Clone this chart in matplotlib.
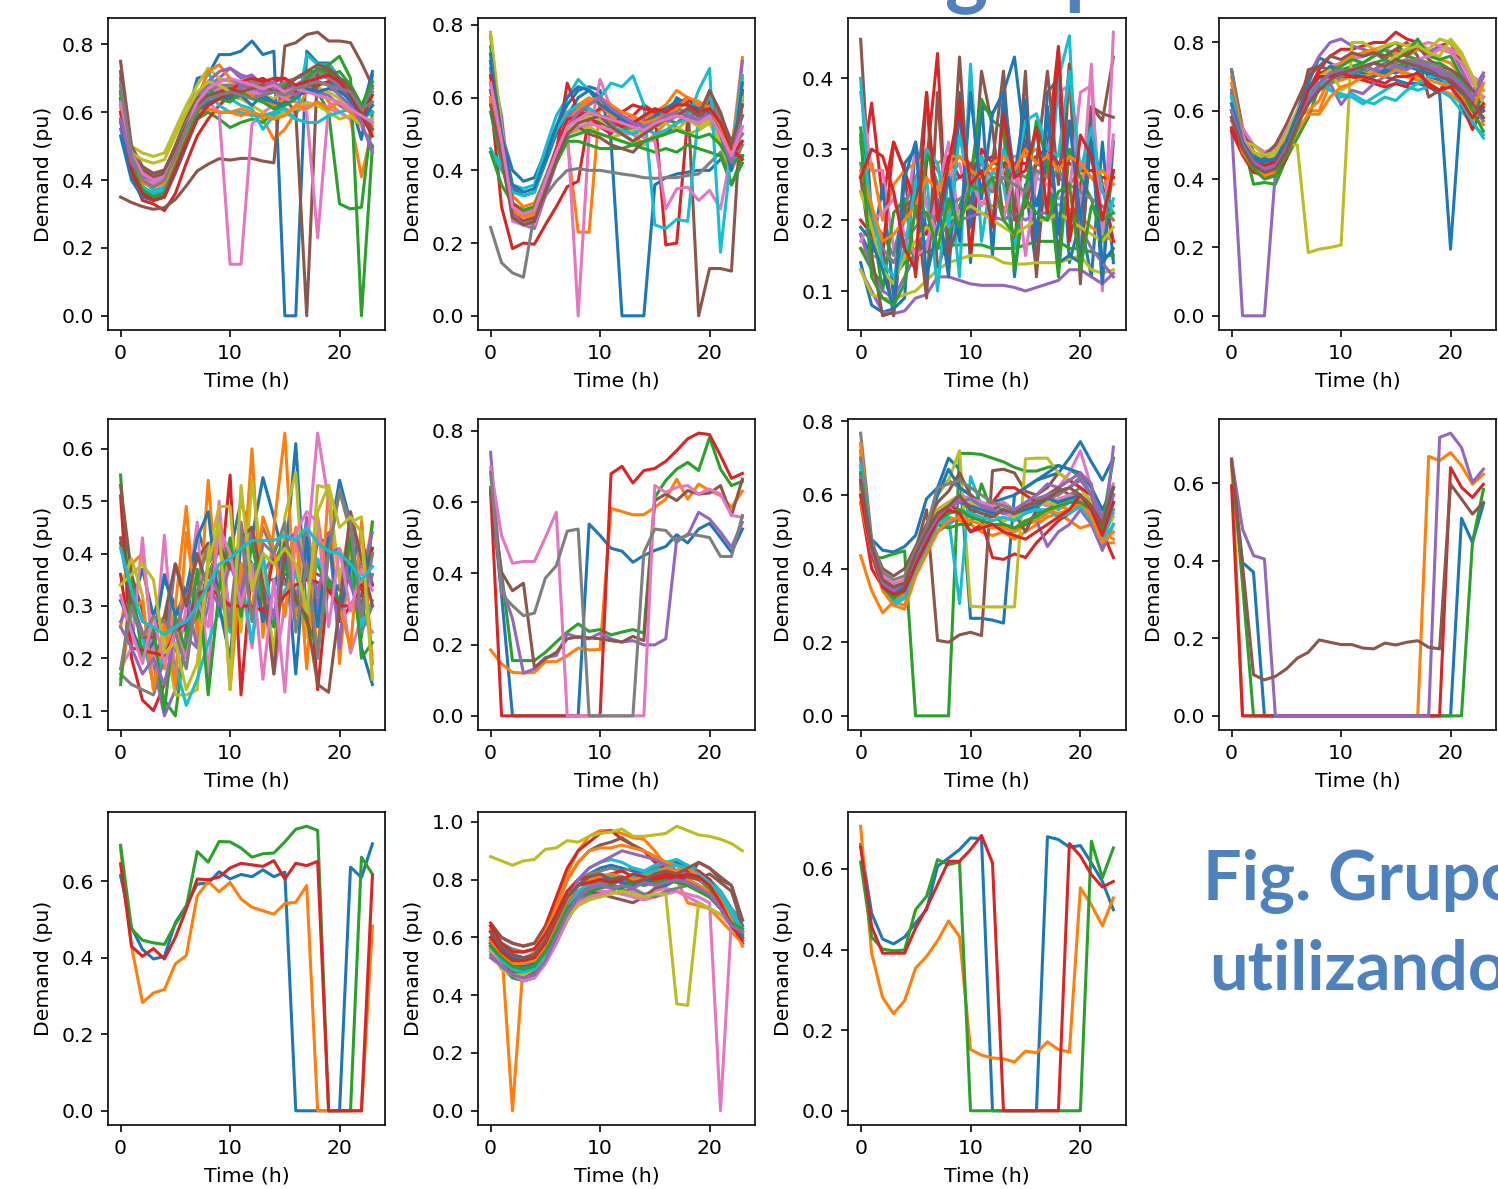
import matplotlib
matplotlib.use("Agg")
import matplotlib.pyplot as plt
import numpy as np

hours = np.arange(24)

# group 1 (row 1, col 1)
g1 = [
    [0.62, 0.44, 0.37, 0.35, 0.36, 0.45, 0.58, 0.70, 0.71, 0.77, 0.77, 0.78, 0.81, 0.77, 0.78, 0.0, 0.0, 0.78, 0.745, 0.745, 0.70, 0.66, 0.60, 0.72],
    [0.60, 0.45, 0.38, 0.36, 0.37, 0.45, 0.53, 0.58, 0.61, 0.60, 0.60, 0.61, 0.60, 0.58, 0.52, 0.55, 0.60, 0.66, 0.68, 0.63, 0.60, 0.58, 0.41, 0.55],
    [0.64, 0.46, 0.38, 0.35, 0.36, 0.44, 0.52, 0.58, 0.60, 0.58, 0.555, 0.57, 0.58, 0.57, 0.60, 0.64, 0.66, 0.68, 0.66, 0.60, 0.33, 0.315, 0.32, 0.60],
    [0.58, 0.42, 0.34, 0.33, 0.31, 0.36, 0.45, 0.53, 0.58, 0.62, 0.65, 0.68, 0.69, 0.70, 0.68, 0.68, 0.67, 0.70, 0.69, 0.68, 0.67, 0.64, 0.60, 0.62],
    [0.55, 0.44, 0.40, 0.39, 0.40, 0.46, 0.56, 0.63, 0.68, 0.70, 0.73, 0.71, 0.70, 0.68, 0.66, 0.67, 0.65, 0.66, 0.66, 0.65, 0.62, 0.60, 0.56, 0.50],
    [0.35, 0.334, 0.322, 0.314, 0.319, 0.343, 0.383, 0.427, 0.447, 0.463, 0.459, 0.464, 0.464, 0.456, 0.451, 0.795, 0.805, 0.829, 0.836, 0.81, 0.81, 0.805, 0.746, 0.677],
    [0.63, 0.48, 0.42, 0.40, 0.41, 0.47, 0.55, 0.63, 0.63, 0.60, 0.152, 0.152, 0.565, 0.60, 0.62, 0.61, 0.60, 0.62, 0.63, 0.61, 0.60, 0.58, 0.57, 0.58],
    [0.72, 0.48, 0.42, 0.41, 0.43, 0.49, 0.56, 0.62, 0.65, 0.66, 0.67, 0.66, 0.64, 0.66, 0.67, 0.66, 0.68, 0.69, 0.70, 0.71, 0.69, 0.68, 0.60, 0.66],
    [0.68, 0.50, 0.48, 0.47, 0.48, 0.55, 0.62, 0.68, 0.73, 0.70, 0.69, 0.68, 0.66, 0.65, 0.64, 0.66, 0.67, 0.68, 0.67, 0.66, 0.64, 0.62, 0.60, 0.62],
    [0.68, 0.47, 0.40, 0.37, 0.38, 0.46, 0.55, 0.64, 0.72, 0.65, 0.64, 0.62, 0.61, 0.55, 0.59, 0.60, 0.58, 0.77, 0.74, 0.74, 0.70, 0.68, 0.62, 0.66],
    [0.53, 0.40, 0.35, 0.34, 0.35, 0.42, 0.50, 0.58, 0.62, 0.64, 0.65, 0.64, 0.65, 0.64, 0.62, 0.63, 0.65, 0.66, 0.68, 0.69, 0.67, 0.63, 0.52, 0.71],
    [0.66, 0.47, 0.41, 0.40, 0.42, 0.50, 0.58, 0.64, 0.72, 0.74, 0.70, 0.66, 0.65, 0.63, 0.62, 0.64, 0.66, 0.70, 0.71, 0.73, 0.70, 0.66, 0.58, 0.63],
    [0.70, 0.46, 0.38, 0.36, 0.37, 0.46, 0.54, 0.63, 0.66, 0.67, 0.66, 0.68, 0.67, 0.69, 0.66, 0.68, 0.70, 0.72, 0.72, 0.74, 0.765, 0.70, 0.0, 0.50],
    [0.64, 0.44, 0.37, 0.35, 0.37, 0.44, 0.52, 0.60, 0.64, 0.66, 0.67, 0.66, 0.68, 0.67, 0.69, 0.70, 0.66, 0.68, 0.68, 0.69, 0.70, 0.66, 0.58, 0.65],
    [0.66, 0.47, 0.42, 0.41, 0.42, 0.50, 0.58, 0.65, 0.69, 0.72, 0.73, 0.70, 0.71, 0.68, 0.69, 0.66, 0.68, 0.70, 0.71, 0.70, 0.68, 0.64, 0.58, 0.60],
    [0.75, 0.50, 0.44, 0.42, 0.43, 0.50, 0.58, 0.64, 0.66, 0.68, 0.67, 0.67, 0.66, 0.65, 0.66, 0.64, 0.60, 0.0, 0.73, 0.72, 0.70, 0.68, 0.62, 0.60],
    [0.60, 0.46, 0.40, 0.39, 0.40, 0.47, 0.56, 0.62, 0.65, 0.67, 0.68, 0.67, 0.66, 0.65, 0.66, 0.64, 0.63, 0.60, 0.23, 0.62, 0.63, 0.60, 0.58, 0.57],
    [0.70, 0.49, 0.43, 0.41, 0.42, 0.49, 0.57, 0.63, 0.66, 0.68, 0.68, 0.67, 0.69, 0.68, 0.67, 0.69, 0.70, 0.71, 0.72, 0.70, 0.69, 0.66, 0.61, 0.67],
    [0.62, 0.48, 0.46, 0.45, 0.46, 0.53, 0.60, 0.66, 0.69, 0.68, 0.66, 0.64, 0.62, 0.60, 0.58, 0.60, 0.61, 0.63, 0.62, 0.60, 0.58, 0.59, 0.56, 0.58],
    [0.66, 0.45, 0.38, 0.36, 0.37, 0.45, 0.53, 0.61, 0.66, 0.62, 0.60, 0.60, 0.59, 0.59, 0.60, 0.61, 0.58, 0.57, 0.57, 0.59, 0.60, 0.61, 0.58, 0.60],
    [0.57, 0.43, 0.36, 0.34, 0.36, 0.44, 0.52, 0.59, 0.63, 0.64, 0.64, 0.65, 0.62, 0.65, 0.63, 0.62, 0.64, 0.67, 0.66, 0.67, 0.66, 0.64, 0.57, 0.62],
    [0.62, 0.45, 0.39, 0.38, 0.39, 0.46, 0.54, 0.60, 0.61, 0.60, 0.60, 0.59, 0.60, 0.59, 0.58, 0.59, 0.62, 0.61, 0.63, 0.61, 0.63, 0.60, 0.57, 0.56],
    [0.66, 0.45, 0.37, 0.35, 0.36, 0.44, 0.52, 0.60, 0.67, 0.64, 0.63, 0.66, 0.64, 0.63, 0.61, 0.62, 0.64, 0.70, 0.73, 0.71, 0.72, 0.68, 0.62, 0.69],
    [0.60, 0.43, 0.36, 0.34, 0.35, 0.43, 0.51, 0.58, 0.62, 0.64, 0.66, 0.69, 0.70, 0.69, 0.70, 0.70, 0.68, 0.69, 0.70, 0.71, 0.69, 0.65, 0.59, 0.53],
    [0.58, 0.45, 0.41, 0.40, 0.41, 0.47, 0.55, 0.62, 0.67, 0.69, 0.70, 0.68, 0.67, 0.66, 0.67, 0.66, 0.65, 0.68, 0.69, 0.68, 0.65, 0.62, 0.57, 0.48],
    [0.72, 0.48, 0.43, 0.41, 0.42, 0.49, 0.56, 0.62, 0.65, 0.66, 0.65, 0.66, 0.67, 0.68, 0.66, 0.67, 0.70, 0.72, 0.74, 0.73, 0.70, 0.67, 0.60, 0.55],
    [0.63, 0.48, 0.42, 0.40, 0.41, 0.47, 0.55, 0.63, 0.67, 0.69, 0.70, 0.69, 0.68, 0.67, 0.68, 0.66, 0.67, 0.66, 0.65, 0.64, 0.63, 0.61, 0.59, 0.57],
    [0.68, 0.47, 0.40, 0.38, 0.40, 0.47, 0.55, 0.61, 0.64, 0.65, 0.66, 0.65, 0.64, 0.65, 0.66, 0.65, 0.67, 0.68, 0.69, 0.68, 0.67, 0.66, 0.61, 0.63],
]

# group 2 (row 1, col 2)
g2 = [
    [0.77, 0.50, 0.40, 0.37, 0.38, 0.45, 0.52, 0.58, 0.62, 0.63, 0.62, 0.48, 0.0, 0.0, 0.0, 0.36, 0.38, 0.39, 0.395, 0.40, 0.40, 0.43, 0.45, 0.62],
    [0.72, 0.50, 0.33, 0.30, 0.31, 0.38, 0.45, 0.48, 0.23, 0.23, 0.59, 0.56, 0.53, 0.50, 0.47, 0.50, 0.53, 0.56, 0.60, 0.57, 0.55, 0.50, 0.45, 0.71],
    [0.74, 0.52, 0.31, 0.27, 0.28, 0.36, 0.45, 0.52, 0.56, 0.57, 0.55, 0.53, 0.52, 0.50, 0.51, 0.52, 0.54, 0.53, 0.55, 0.53, 0.56, 0.48, 0.36, 0.44],
    [0.60, 0.30, 0.185, 0.20, 0.197, 0.25, 0.30, 0.355, 0.37, 0.55, 0.57, 0.56, 0.54, 0.55, 0.58, 0.56, 0.195, 0.20, 0.54, 0.56, 0.58, 0.51, 0.44, 0.44],
    [0.70, 0.55, 0.28, 0.25, 0.24, 0.33, 0.42, 0.50, 0.52, 0.52, 0.54, 0.55, 0.53, 0.51, 0.55, 0.53, 0.55, 0.58, 0.60, 0.58, 0.55, 0.50, 0.42, 0.70],
    [0.68, 0.45, 0.30, 0.28, 0.29, 0.36, 0.44, 0.52, 0.55, 0.54, 0.53, 0.52, 0.50, 0.48, 0.50, 0.53, 0.55, 0.57, 0.60, 0.0, 0.13, 0.13, 0.123, 0.62],
    [0.62, 0.48, 0.26, 0.25, 0.25, 0.34, 0.44, 0.52, 0.0, 0.50, 0.65, 0.57, 0.55, 0.54, 0.52, 0.50, 0.51, 0.53, 0.56, 0.55, 0.53, 0.50, 0.45, 0.50],
    [0.243, 0.146, 0.118, 0.106, 0.28, 0.33, 0.37, 0.40, 0.405, 0.40, 0.40, 0.395, 0.39, 0.386, 0.38, 0.378, 0.38, 0.38, 0.386, 0.39, 0.42, 0.45, 0.40, 0.47],
    [0.78, 0.52, 0.29, 0.26, 0.27, 0.35, 0.44, 0.50, 0.51, 0.52, 0.50, 0.49, 0.50, 0.48, 0.47, 0.49, 0.51, 0.52, 0.50, 0.51, 0.53, 0.47, 0.40, 0.65],
    [0.46, 0.40, 0.36, 0.35, 0.36, 0.46, 0.55, 0.60, 0.65, 0.62, 0.60, 0.64, 0.63, 0.66, 0.58, 0.25, 0.24, 0.265, 0.26, 0.55, 0.54, 0.50, 0.45, 0.55],
    [0.72, 0.48, 0.35, 0.33, 0.34, 0.42, 0.50, 0.55, 0.60, 0.62, 0.60, 0.56, 0.55, 0.53, 0.55, 0.56, 0.54, 0.60, 0.58, 0.56, 0.57, 0.50, 0.42, 0.60],
    [0.66, 0.46, 0.30, 0.28, 0.29, 0.37, 0.46, 0.54, 0.58, 0.60, 0.58, 0.55, 0.54, 0.52, 0.54, 0.56, 0.58, 0.62, 0.60, 0.58, 0.58, 0.52, 0.46, 0.66],
    [0.56, 0.42, 0.29, 0.27, 0.28, 0.35, 0.42, 0.48, 0.48, 0.47, 0.46, 0.46, 0.46, 0.47, 0.46, 0.45, 0.46, 0.45, 0.47, 0.46, 0.45, 0.44, 0.36, 0.42],
    [0.64, 0.47, 0.30, 0.27, 0.28, 0.36, 0.45, 0.64, 0.56, 0.55, 0.52, 0.50, 0.56, 0.58, 0.57, 0.56, 0.57, 0.58, 0.60, 0.56, 0.59, 0.52, 0.44, 0.48],
    [0.68, 0.50, 0.30, 0.27, 0.27, 0.36, 0.45, 0.55, 0.57, 0.59, 0.60, 0.58, 0.55, 0.53, 0.54, 0.52, 0.53, 0.55, 0.57, 0.55, 0.56, 0.50, 0.44, 0.60],
    [0.62, 0.45, 0.28, 0.26, 0.27, 0.35, 0.43, 0.50, 0.52, 0.50, 0.49, 0.47, 0.46, 0.45, 0.48, 0.49, 0.50, 0.53, 0.55, 0.52, 0.61, 0.55, 0.48, 0.55],
    [0.60, 0.46, 0.29, 0.27, 0.28, 0.36, 0.44, 0.50, 0.52, 0.53, 0.52, 0.51, 0.50, 0.50, 0.49, 0.48, 0.294, 0.349, 0.354, 0.317, 0.345, 0.294, 0.45, 0.52],
    [0.66, 0.48, 0.31, 0.29, 0.30, 0.38, 0.46, 0.53, 0.55, 0.56, 0.55, 0.53, 0.52, 0.52, 0.53, 0.54, 0.56, 0.57, 0.56, 0.55, 0.60, 0.54, 0.46, 0.50],
    [0.70, 0.50, 0.30, 0.27, 0.28, 0.36, 0.45, 0.51, 0.53, 0.55, 0.54, 0.52, 0.50, 0.51, 0.50, 0.52, 0.53, 0.51, 0.54, 0.52, 0.54, 0.48, 0.42, 0.60],
    [0.45, 0.42, 0.34, 0.33, 0.34, 0.43, 0.51, 0.56, 0.58, 0.57, 0.55, 0.52, 0.51, 0.50, 0.52, 0.50, 0.51, 0.53, 0.54, 0.62, 0.68, 0.175, 0.45, 0.66],
    [0.70, 0.50, 0.36, 0.34, 0.35, 0.43, 0.52, 0.60, 0.63, 0.62, 0.58, 0.56, 0.54, 0.52, 0.53, 0.55, 0.57, 0.59, 0.58, 0.57, 0.56, 0.50, 0.40, 0.64],
    [0.60, 0.44, 0.29, 0.27, 0.28, 0.36, 0.45, 0.53, 0.57, 0.59, 0.60, 0.58, 0.56, 0.55, 0.53, 0.54, 0.55, 0.57, 0.60, 0.59, 0.57, 0.52, 0.45, 0.58],
    [0.45, 0.36, 0.31, 0.29, 0.30, 0.37, 0.44, 0.49, 0.50, 0.51, 0.50, 0.49, 0.48, 0.47, 0.48, 0.49, 0.50, 0.51, 0.50, 0.49, 0.50, 0.47, 0.42, 0.44],
    [0.66, 0.48, 0.31, 0.28, 0.29, 0.37, 0.46, 0.54, 0.55, 0.56, 0.55, 0.54, 0.52, 0.53, 0.55, 0.57, 0.56, 0.58, 0.58, 0.56, 0.57, 0.53, 0.46, 0.43],
    [0.64, 0.48, 0.28, 0.25, 0.26, 0.35, 0.44, 0.52, 0.56, 0.58, 0.60, 0.57, 0.55, 0.53, 0.52, 0.53, 0.55, 0.56, 0.55, 0.54, 0.55, 0.50, 0.42, 0.58],
    [0.58, 0.44, 0.27, 0.25, 0.26, 0.34, 0.43, 0.50, 0.53, 0.54, 0.55, 0.52, 0.50, 0.48, 0.50, 0.52, 0.54, 0.55, 0.57, 0.55, 0.62, 0.56, 0.47, 0.58],
    [0.64, 0.48, 0.30, 0.28, 0.29, 0.37, 0.45, 0.52, 0.54, 0.56, 0.55, 0.54, 0.53, 0.52, 0.51, 0.53, 0.54, 0.55, 0.54, 0.53, 0.55, 0.50, 0.44, 0.52],
]

# group 3 (row 1, col 3)
g3 = [
    [0.14, 0.08, 0.07, 0.075, 0.09, 0.31, 0.22, 0.20, 0.15, 0.38, 0.14, 0.37, 0.15, 0.38, 0.12, 0.25, 0.13, 0.38, 0.40, 0.14, 0.20, 0.12, 0.31, 0.14],
    [0.16, 0.15, 0.145, 0.143, 0.145, 0.16, 0.185, 0.205, 0.215, 0.22, 0.232, 0.225, 0.22, 0.218, 0.215, 0.218, 0.222, 0.222, 0.222, 0.215, 0.205, 0.19, 0.18, 0.17],
    [0.16, 0.13, 0.11, 0.12, 0.14, 0.15, 0.155, 0.16, 0.165, 0.165, 0.165, 0.165, 0.16, 0.16, 0.16, 0.165, 0.17, 0.17, 0.17, 0.16, 0.16, 0.155, 0.15, 0.15],
    [0.26, 0.365, 0.23, 0.31, 0.27, 0.12, 0.28, 0.435, 0.13, 0.37, 0.15, 0.30, 0.28, 0.28, 0.16, 0.35, 0.13, 0.30, 0.445, 0.17, 0.25, 0.31, 0.25, 0.17],
    [0.13, 0.10, 0.07, 0.068, 0.072, 0.09, 0.095, 0.12, 0.12, 0.115, 0.11, 0.108, 0.108, 0.108, 0.105, 0.10, 0.105, 0.11, 0.115, 0.13, 0.13, 0.12, 0.11, 0.125],
    [0.455, 0.20, 0.16, 0.065, 0.23, 0.22, 0.38, 0.13, 0.18, 0.43, 0.20, 0.41, 0.33, 0.20, 0.21, 0.41, 0.12, 0.36, 0.13, 0.42, 0.20, 0.36, 0.34, 0.43],
    [0.38, 0.27, 0.27, 0.16, 0.20, 0.30, 0.22, 0.18, 0.26, 0.28, 0.21, 0.29, 0.24, 0.27, 0.28, 0.22, 0.26, 0.29, 0.38, 0.39, 0.21, 0.42, 0.10, 0.465],
    [0.28, 0.20, 0.18, 0.15, 0.22, 0.26, 0.29, 0.27, 0.25, 0.26, 0.27, 0.28, 0.26, 0.26, 0.27, 0.26, 0.28, 0.27, 0.26, 0.25, 0.27, 0.26, 0.24, 0.22],
    [0.13, 0.095, 0.09, 0.088, 0.095, 0.10, 0.115, 0.13, 0.14, 0.145, 0.15, 0.15, 0.148, 0.14, 0.138, 0.138, 0.14, 0.14, 0.14, 0.145, 0.15, 0.13, 0.125, 0.13],
    [0.40, 0.17, 0.13, 0.11, 0.15, 0.21, 0.26, 0.10, 0.27, 0.12, 0.42, 0.17, 0.27, 0.25, 0.16, 0.24, 0.33, 0.20, 0.40, 0.46, 0.14, 0.36, 0.18, 0.23],
    [0.18, 0.15, 0.25, 0.09, 0.28, 0.30, 0.18, 0.23, 0.12, 0.36, 0.19, 0.36, 0.35, 0.38, 0.43, 0.30, 0.22, 0.29, 0.14, 0.15, 0.14, 0.32, 0.11, 0.31],
    [0.26, 0.28, 0.20, 0.25, 0.27, 0.28, 0.29, 0.28, 0.29, 0.29, 0.28, 0.29, 0.27, 0.28, 0.29, 0.29, 0.30, 0.29, 0.28, 0.29, 0.27, 0.26, 0.25, 0.26],
    [0.33, 0.20, 0.10, 0.21, 0.23, 0.13, 0.30, 0.25, 0.18, 0.22, 0.26, 0.37, 0.34, 0.33, 0.13, 0.24, 0.34, 0.28, 0.12, 0.30, 0.26, 0.23, 0.17, 0.27],
    [0.20, 0.18, 0.15, 0.31, 0.27, 0.22, 0.18, 0.24, 0.29, 0.26, 0.27, 0.28, 0.29, 0.28, 0.28, 0.28, 0.29, 0.30, 0.28, 0.28, 0.27, 0.27, 0.26, 0.26],
    [0.18, 0.13, 0.10, 0.09, 0.12, 0.15, 0.17, 0.18, 0.19, 0.20, 0.205, 0.21, 0.205, 0.20, 0.21, 0.20, 0.21, 0.21, 0.20, 0.21, 0.19, 0.16, 0.14, 0.12],
    [0.26, 0.15, 0.065, 0.07, 0.22, 0.23, 0.09, 0.38, 0.15, 0.20, 0.28, 0.26, 0.28, 0.41, 0.20, 0.22, 0.28, 0.41, 0.25, 0.42, 0.11, 0.36, 0.35, 0.345],
    [0.17, 0.20, 0.21, 0.23, 0.18, 0.15, 0.16, 0.24, 0.31, 0.19, 0.26, 0.22, 0.25, 0.20, 0.27, 0.15, 0.26, 0.25, 0.23, 0.24, 0.38, 0.39, 0.18, 0.32],
    [0.24, 0.20, 0.16, 0.14, 0.17, 0.19, 0.21, 0.20, 0.22, 0.23, 0.24, 0.25, 0.24, 0.26, 0.25, 0.24, 0.27, 0.26, 0.27, 0.25, 0.24, 0.23, 0.22, 0.20],
    [0.24, 0.19, 0.13, 0.11, 0.15, 0.17, 0.19, 0.18, 0.20, 0.21, 0.22, 0.21, 0.20, 0.19, 0.18, 0.19, 0.20, 0.20, 0.21, 0.20, 0.19, 0.18, 0.17, 0.19],
    [0.31, 0.22, 0.14, 0.12, 0.16, 0.25, 0.30, 0.28, 0.19, 0.32, 0.24, 0.29, 0.20, 0.30, 0.26, 0.34, 0.35, 0.30, 0.29, 0.41, 0.27, 0.33, 0.24, 0.21],
    [0.19, 0.17, 0.13, 0.075, 0.26, 0.31, 0.12, 0.19, 0.26, 0.17, 0.38, 0.23, 0.35, 0.38, 0.26, 0.37, 0.17, 0.36, 0.18, 0.34, 0.20, 0.31, 0.14, 0.16],
    [0.27, 0.22, 0.17, 0.18, 0.20, 0.22, 0.26, 0.24, 0.27, 0.29, 0.27, 0.26, 0.28, 0.29, 0.27, 0.30, 0.28, 0.29, 0.27, 0.29, 0.28, 0.26, 0.27, 0.25],
    [0.32, 0.12, 0.09, 0.08, 0.11, 0.22, 0.21, 0.16, 0.23, 0.19, 0.25, 0.24, 0.26, 0.20, 0.18, 0.23, 0.21, 0.20, 0.24, 0.25, 0.13, 0.22, 0.20, 0.21],
    [0.26, 0.30, 0.29, 0.24, 0.16, 0.13, 0.38, 0.20, 0.28, 0.36, 0.25, 0.27, 0.19, 0.35, 0.26, 0.27, 0.33, 0.21, 0.44, 0.18, 0.32, 0.29, 0.20, 0.27],
]

# group 4 (row 1, col 4)
g4 = [
    [0.65, 0.52, 0.47, 0.45, 0.47, 0.52, 0.59, 0.68, 0.755, 0.74, 0.72, 0.70, 0.69, 0.71, 0.70, 0.69, 0.68, 0.68, 0.67, 0.65, 0.195, 0.65, 0.60, 0.64],
    [0.70, 0.55, 0.48, 0.46, 0.47, 0.52, 0.58, 0.60, 0.60, 0.68, 0.69, 0.70, 0.69, 0.70, 0.71, 0.72, 0.70, 0.69, 0.68, 0.66, 0.65, 0.62, 0.58, 0.56],
    [0.72, 0.52, 0.385, 0.39, 0.385, 0.46, 0.52, 0.58, 0.67, 0.70, 0.72, 0.73, 0.74, 0.76, 0.78, 0.80, 0.76, 0.75, 0.74, 0.74, 0.72, 0.69, 0.64, 0.60],
    [0.58, 0.50, 0.44, 0.42, 0.42, 0.50, 0.58, 0.66, 0.72, 0.76, 0.78, 0.78, 0.79, 0.80, 0.80, 0.83, 0.81, 0.80, 0.77, 0.79, 0.80, 0.74, 0.70, 0.66],
    [0.55, 0.0, 0.0, 0.0, 0.42, 0.50, 0.60, 0.70, 0.76, 0.80, 0.81, 0.79, 0.78, 0.77, 0.76, 0.77, 0.76, 0.78, 0.77, 0.79, 0.78, 0.72, 0.66, 0.71],
    [0.72, 0.55, 0.48, 0.46, 0.50, 0.49, 0.58, 0.72, 0.73, 0.72, 0.74, 0.75, 0.76, 0.77, 0.75, 0.78, 0.80, 0.76, 0.64, 0.66, 0.70, 0.68, 0.63, 0.60],
    [0.66, 0.55, 0.50, 0.48, 0.49, 0.54, 0.60, 0.66, 0.70, 0.73, 0.74, 0.75, 0.76, 0.77, 0.78, 0.77, 0.78, 0.79, 0.80, 0.79, 0.78, 0.76, 0.70, 0.68],
    [0.72, 0.53, 0.46, 0.44, 0.45, 0.50, 0.57, 0.64, 0.68, 0.70, 0.71, 0.72, 0.73, 0.72, 0.73, 0.74, 0.75, 0.74, 0.73, 0.72, 0.71, 0.68, 0.62, 0.58],
    [0.62, 0.52, 0.48, 0.46, 0.47, 0.50, 0.50, 0.185, 0.195, 0.20, 0.207, 0.80, 0.80, 0.78, 0.79, 0.80, 0.79, 0.80, 0.78, 0.81, 0.80, 0.76, 0.70, 0.66],
    [0.62, 0.50, 0.45, 0.43, 0.44, 0.50, 0.58, 0.66, 0.68, 0.66, 0.65, 0.64, 0.62, 0.64, 0.66, 0.68, 0.67, 0.66, 0.67, 0.66, 0.64, 0.60, 0.56, 0.53],
    [0.60, 0.50, 0.45, 0.46, 0.45, 0.50, 0.58, 0.65, 0.70, 0.73, 0.72, 0.71, 0.70, 0.72, 0.71, 0.73, 0.72, 0.74, 0.70, 0.69, 0.68, 0.65, 0.62, 0.64],
    [0.68, 0.53, 0.46, 0.43, 0.44, 0.50, 0.58, 0.60, 0.63, 0.70, 0.74, 0.76, 0.77, 0.78, 0.76, 0.77, 0.76, 0.78, 0.77, 0.75, 0.74, 0.70, 0.66, 0.70],
    [0.64, 0.50, 0.44, 0.42, 0.43, 0.48, 0.56, 0.64, 0.70, 0.72, 0.73, 0.75, 0.74, 0.76, 0.78, 0.75, 0.77, 0.81, 0.76, 0.75, 0.76, 0.70, 0.64, 0.60],
    [0.54, 0.47, 0.42, 0.41, 0.41, 0.46, 0.55, 0.66, 0.71, 0.72, 0.70, 0.70, 0.69, 0.68, 0.67, 0.68, 0.67, 0.715, 0.67, 0.66, 0.69, 0.62, 0.545, 0.61],
    [0.57, 0.50, 0.46, 0.44, 0.45, 0.50, 0.58, 0.64, 0.70, 0.68, 0.618, 0.66, 0.65, 0.68, 0.70, 0.72, 0.74, 0.75, 0.73, 0.72, 0.70, 0.68, 0.64, 0.71],
    [0.60, 0.52, 0.50, 0.47, 0.50, 0.56, 0.63, 0.70, 0.73, 0.76, 0.75, 0.77, 0.76, 0.77, 0.76, 0.78, 0.76, 0.79, 0.75, 0.73, 0.72, 0.70, 0.66, 0.62],
    [0.62, 0.53, 0.45, 0.42, 0.43, 0.49, 0.57, 0.63, 0.68, 0.70, 0.71, 0.72, 0.73, 0.74, 0.72, 0.73, 0.74, 0.75, 0.76, 0.78, 0.77, 0.74, 0.68, 0.64],
    [0.66, 0.51, 0.44, 0.42, 0.43, 0.48, 0.56, 0.62, 0.66, 0.68, 0.70, 0.71, 0.72, 0.71, 0.72, 0.73, 0.74, 0.75, 0.74, 0.73, 0.70, 0.66, 0.61, 0.57],
    [0.60, 0.51, 0.50, 0.47, 0.48, 0.53, 0.60, 0.66, 0.70, 0.72, 0.66, 0.68, 0.70, 0.72, 0.74, 0.76, 0.78, 0.79, 0.77, 0.76, 0.81, 0.77, 0.70, 0.62],
    [0.64, 0.50, 0.44, 0.42, 0.43, 0.49, 0.57, 0.65, 0.70, 0.66, 0.64, 0.65, 0.63, 0.62, 0.64, 0.63, 0.66, 0.68, 0.70, 0.70, 0.67, 0.62, 0.57, 0.52],
    [0.62, 0.51, 0.46, 0.45, 0.46, 0.51, 0.59, 0.67, 0.70, 0.70, 0.71, 0.72, 0.71, 0.70, 0.72, 0.71, 0.73, 0.72, 0.71, 0.70, 0.69, 0.66, 0.62, 0.60],
    [0.58, 0.48, 0.43, 0.41, 0.42, 0.47, 0.54, 0.59, 0.59, 0.64, 0.67, 0.68, 0.70, 0.71, 0.70, 0.72, 0.71, 0.70, 0.69, 0.68, 0.67, 0.64, 0.60, 0.68],
    [0.60, 0.49, 0.43, 0.40, 0.41, 0.47, 0.55, 0.63, 0.68, 0.71, 0.72, 0.71, 0.72, 0.74, 0.75, 0.73, 0.74, 0.73, 0.72, 0.71, 0.70, 0.66, 0.60, 0.54],
    [0.55, 0.49, 0.45, 0.44, 0.45, 0.49, 0.56, 0.66, 0.70, 0.70, 0.71, 0.70, 0.70, 0.69, 0.68, 0.70, 0.70, 0.71, 0.68, 0.66, 0.67, 0.63, 0.58, 0.62],
    [0.60, 0.50, 0.45, 0.43, 0.44, 0.49, 0.56, 0.63, 0.68, 0.71, 0.72, 0.71, 0.73, 0.72, 0.74, 0.73, 0.72, 0.74, 0.73, 0.71, 0.70, 0.67, 0.63, 0.70],
    [0.58, 0.49, 0.44, 0.42, 0.43, 0.48, 0.56, 0.62, 0.66, 0.69, 0.71, 0.72, 0.73, 0.74, 0.73, 0.75, 0.74, 0.73, 0.72, 0.70, 0.69, 0.66, 0.62, 0.58],
]

# group 5 (row 2, col 1)
g5 = [
    [0.42, 0.30, 0.37, 0.28, 0.35, 0.30, 0.25, 0.45, 0.38, 0.42, 0.40, 0.50, 0.43, 0.545, 0.47, 0.38, 0.61, 0.27, 0.43, 0.42, 0.54, 0.46, 0.22, 0.15],
    [0.26, 0.38, 0.40, 0.22, 0.18, 0.30, 0.49, 0.24, 0.54, 0.28, 0.42, 0.30, 0.60, 0.24, 0.45, 0.63, 0.28, 0.44, 0.20, 0.53, 0.19, 0.42, 0.33, 0.46],
    [0.55, 0.25, 0.22, 0.20, 0.12, 0.09, 0.25, 0.28, 0.36, 0.41, 0.40, 0.38, 0.36, 0.40, 0.38, 0.43, 0.37, 0.35, 0.38, 0.33, 0.34, 0.36, 0.24, 0.46],
    [0.51, 0.20, 0.12, 0.10, 0.15, 0.22, 0.27, 0.30, 0.36, 0.33, 0.55, 0.13, 0.38, 0.28, 0.40, 0.35, 0.30, 0.42, 0.14, 0.35, 0.27, 0.30, 0.32, 0.41],
    [0.27, 0.31, 0.25, 0.19, 0.09, 0.14, 0.24, 0.22, 0.30, 0.44, 0.28, 0.46, 0.33, 0.36, 0.40, 0.45, 0.30, 0.47, 0.29, 0.44, 0.22, 0.47, 0.36, 0.44],
    [0.53, 0.36, 0.29, 0.20, 0.25, 0.38, 0.32, 0.39, 0.42, 0.40, 0.38, 0.37, 0.36, 0.35, 0.35, 0.36, 0.37, 0.37, 0.36, 0.35, 0.33, 0.37, 0.30, 0.40],
    [0.18, 0.22, 0.43, 0.19, 0.435, 0.17, 0.30, 0.46, 0.16, 0.50, 0.25, 0.35, 0.22, 0.40, 0.17, 0.30, 0.37, 0.40, 0.63, 0.50, 0.35, 0.21, 0.28, 0.25],
    [0.17, 0.15, 0.14, 0.13, 0.20, 0.38, 0.30, 0.35, 0.41, 0.36, 0.27, 0.44, 0.35, 0.45, 0.40, 0.34, 0.36, 0.44, 0.32, 0.40, 0.52, 0.44, 0.25, 0.30],
    [0.34, 0.39, 0.32, 0.14, 0.25, 0.13, 0.13, 0.14, 0.40, 0.49, 0.49, 0.25, 0.54, 0.37, 0.21, 0.47, 0.555, 0.24, 0.53, 0.525, 0.35, 0.46, 0.47, 0.16],
    [0.31, 0.29, 0.24, 0.15, 0.21, 0.19, 0.11, 0.16, 0.23, 0.29, 0.25, 0.36, 0.23, 0.40, 0.26, 0.33, 0.36, 0.29, 0.39, 0.35, 0.31, 0.38, 0.26, 0.31],
    [0.31, 0.26, 0.20, 0.23, 0.36, 0.28, 0.33, 0.43, 0.48, 0.30, 0.20, 0.42, 0.38, 0.27, 0.33, 0.42, 0.17, 0.43, 0.26, 0.43, 0.28, 0.38, 0.43, 0.34],
    [0.16, 0.29, 0.31, 0.14, 0.27, 0.15, 0.44, 0.30, 0.32, 0.45, 0.14, 0.38, 0.29, 0.47, 0.41, 0.28, 0.45, 0.18, 0.47, 0.33, 0.30, 0.22, 0.46, 0.19],
    [0.15, 0.35, 0.20, 0.26, 0.10, 0.28, 0.21, 0.37, 0.13, 0.33, 0.43, 0.28, 0.42, 0.31, 0.26, 0.38, 0.32, 0.27, 0.22, 0.35, 0.30, 0.43, 0.20, 0.23],
    [0.36, 0.22, 0.215, 0.21, 0.205, 0.25, 0.27, 0.32, 0.335, 0.32, 0.30, 0.30, 0.30, 0.29, 0.29, 0.32, 0.34, 0.35, 0.345, 0.33, 0.30, 0.30, 0.34, 0.34],
    [0.26, 0.22, 0.17, 0.20, 0.15, 0.25, 0.32, 0.22, 0.34, 0.30, 0.38, 0.32, 0.45, 0.34, 0.28, 0.42, 0.44, 0.36, 0.33, 0.40, 0.41, 0.34, 0.28, 0.36],
    [0.43, 0.30, 0.24, 0.24, 0.28, 0.38, 0.30, 0.40, 0.33, 0.42, 0.37, 0.43, 0.45, 0.34, 0.17, 0.42, 0.31, 0.28, 0.15, 0.135, 0.30, 0.48, 0.39, 0.30],
    [0.32, 0.25, 0.19, 0.28, 0.19, 0.25, 0.20, 0.31, 0.26, 0.45, 0.40, 0.30, 0.38, 0.16, 0.35, 0.135, 0.44, 0.48, 0.46, 0.26, 0.41, 0.29, 0.37, 0.33],
    [0.18, 0.30, 0.24, 0.28, 0.27, 0.25, 0.18, 0.33, 0.37, 0.32, 0.26, 0.44, 0.27, 0.42, 0.40, 0.46, 0.25, 0.38, 0.20, 0.40, 0.52, 0.46, 0.28, 0.40],
    [0.34, 0.36, 0.38, 0.35, 0.21, 0.23, 0.14, 0.19, 0.38, 0.46, 0.14, 0.53, 0.33, 0.40, 0.38, 0.41, 0.38, 0.29, 0.48, 0.53, 0.45, 0.47, 0.44, 0.16],
    [0.41, 0.33, 0.27, 0.26, 0.245, 0.26, 0.27, 0.30, 0.34, 0.38, 0.39, 0.41, 0.425, 0.425, 0.425, 0.435, 0.425, 0.45, 0.42, 0.405, 0.40, 0.38, 0.35, 0.375],
]

# group 6 (row 2, col 2)
g6 = [
    [0.64, 0.34, 0.0, 0.0, 0.0, 0.0, 0.0, 0.0, 0.0, 0.538, 0.506, 0.47, 0.462, 0.431, 0.45, 0.464, 0.475, 0.508, 0.485, 0.524, 0.54, 0.50, 0.459, 0.524],
    [0.185, 0.146, 0.122, 0.12, 0.122, 0.152, 0.152, 0.169, 0.19, 0.185, 0.186, 0.582, 0.573, 0.564, 0.564, 0.585, 0.608, 0.664, 0.608, 0.65, 0.632, 0.618, 0.585, 0.63],
    [0.64, 0.40, 0.155, 0.155, 0.155, 0.178, 0.207, 0.235, 0.258, 0.237, 0.242, 0.227, 0.235, 0.242, 0.232, 0.613, 0.66, 0.692, 0.711, 0.688, 0.781, 0.692, 0.646, 0.658],
    [0.632, 0.0, 0.0, 0.0, 0.0, 0.0, 0.0, 0.0, 0.0, 0.0, 0.0, 0.679, 0.70, 0.653, 0.688, 0.694, 0.714, 0.744, 0.777, 0.793, 0.789, 0.73, 0.666, 0.68],
    [0.739, 0.365, 0.272, 0.12, 0.132, 0.164, 0.169, 0.23, 0.22, 0.216, 0.232, 0.216, 0.207, 0.211, 0.199, 0.199, 0.216, 0.496, 0.506, 0.571, 0.552, 0.515, 0.473, 0.543],
    [0.632, 0.403, 0.351, 0.372, 0.136, 0.16, 0.178, 0.216, 0.222, 0.219, 0.216, 0.211, 0.207, 0.223, 0.211, 0.604, 0.622, 0.604, 0.632, 0.622, 0.625, 0.646, 0.562, 0.664],
    [0.697, 0.506, 0.428, 0.433, 0.433, 0.50, 0.571, 0.0, 0.0, 0.0, 0.0, 0.0, 0.0, 0.0, 0.0, 0.646, 0.627, 0.641, 0.646, 0.622, 0.636, 0.622, 0.562, 0.557],
    [0.683, 0.342, 0.309, 0.281, 0.288, 0.386, 0.421, 0.518, 0.524, 0.0, 0.0, 0.0, 0.0, 0.0, 0.459, 0.524, 0.52, 0.487, 0.51, 0.506, 0.50, 0.447, 0.447, 0.562],
]

# group 7 (row 2, col 3)
g7 = [
    [0.62, 0.48, 0.45, 0.445, 0.46, 0.49, 0.59, 0.62, 0.70, 0.67, 0.265, 0.265, 0.26, 0.252, 0.60, 0.62, 0.64, 0.65, 0.66, 0.70, 0.745, 0.69, 0.64, 0.70],
    [0.435, 0.34, 0.28, 0.31, 0.30, 0.40, 0.46, 0.52, 0.54, 0.53, 0.52, 0.50, 0.49, 0.50, 0.48, 0.50, 0.52, 0.54, 0.55, 0.53, 0.51, 0.52, 0.47, 0.47],
    [0.60, 0.427, 0.43, 0.44, 0.448, 0.0, 0.0, 0.0, 0.0, 0.713, 0.713, 0.71, 0.70, 0.69, 0.675, 0.665, 0.665, 0.675, 0.68, 0.67, 0.65, 0.60, 0.55, 0.62],
    [0.58, 0.40, 0.35, 0.32, 0.33, 0.40, 0.46, 0.52, 0.56, 0.60, 0.55, 0.53, 0.43, 0.425, 0.44, 0.43, 0.47, 0.50, 0.53, 0.55, 0.57, 0.54, 0.50, 0.43],
    [0.72, 0.45, 0.36, 0.31, 0.33, 0.40, 0.46, 0.50, 0.52, 0.54, 0.55, 0.53, 0.52, 0.51, 0.50, 0.52, 0.53, 0.46, 0.50, 0.52, 0.56, 0.52, 0.45, 0.52],
    [0.68, 0.46, 0.37, 0.35, 0.37, 0.45, 0.56, 0.205, 0.20, 0.22, 0.227, 0.218, 0.666, 0.67, 0.66, 0.61, 0.60, 0.62, 0.66, 0.64, 0.62, 0.58, 0.55, 0.60],
    [0.66, 0.44, 0.36, 0.33, 0.35, 0.42, 0.48, 0.53, 0.56, 0.58, 0.57, 0.55, 0.56, 0.55, 0.54, 0.56, 0.58, 0.60, 0.62, 0.66, 0.72, 0.62, 0.55, 0.63],
    [0.768, 0.48, 0.38, 0.35, 0.36, 0.44, 0.50, 0.62, 0.64, 0.62, 0.60, 0.58, 0.57, 0.56, 0.55, 0.57, 0.59, 0.60, 0.58, 0.60, 0.62, 0.58, 0.52, 0.60],
    [0.64, 0.46, 0.38, 0.36, 0.37, 0.45, 0.52, 0.60, 0.64, 0.72, 0.298, 0.296, 0.296, 0.296, 0.296, 0.698, 0.70, 0.70, 0.66, 0.64, 0.62, 0.58, 0.52, 0.58],
    [0.62, 0.44, 0.35, 0.31, 0.33, 0.40, 0.45, 0.50, 0.54, 0.305, 0.65, 0.57, 0.55, 0.53, 0.54, 0.55, 0.57, 0.58, 0.56, 0.58, 0.60, 0.56, 0.47, 0.52],
    [0.66, 0.47, 0.37, 0.34, 0.36, 0.44, 0.50, 0.60, 0.67, 0.62, 0.60, 0.57, 0.58, 0.59, 0.60, 0.62, 0.64, 0.66, 0.68, 0.67, 0.66, 0.62, 0.56, 0.62],
    [0.74, 0.45, 0.35, 0.32, 0.33, 0.41, 0.47, 0.52, 0.55, 0.56, 0.55, 0.53, 0.52, 0.51, 0.50, 0.52, 0.53, 0.55, 0.57, 0.56, 0.58, 0.55, 0.50, 0.48],
    [0.63, 0.46, 0.37, 0.35, 0.36, 0.42, 0.49, 0.52, 0.51, 0.52, 0.52, 0.63, 0.55, 0.52, 0.51, 0.52, 0.55, 0.56, 0.58, 0.60, 0.58, 0.57, 0.52, 0.70],
    [0.62, 0.45, 0.36, 0.34, 0.36, 0.44, 0.50, 0.56, 0.58, 0.55, 0.50, 0.52, 0.58, 0.62, 0.62, 0.60, 0.58, 0.60, 0.62, 0.64, 0.62, 0.60, 0.51, 0.60],
    [0.70, 0.47, 0.36, 0.32, 0.34, 0.41, 0.47, 0.54, 0.57, 0.59, 0.58, 0.57, 0.56, 0.55, 0.56, 0.58, 0.60, 0.63, 0.62, 0.64, 0.66, 0.63, 0.45, 0.73],
    [0.66, 0.47, 0.40, 0.38, 0.40, 0.46, 0.52, 0.58, 0.61, 0.66, 0.60, 0.57, 0.56, 0.58, 0.55, 0.50, 0.56, 0.60, 0.62, 0.60, 0.60, 0.57, 0.50, 0.58],
    [0.60, 0.45, 0.38, 0.36, 0.37, 0.43, 0.49, 0.55, 0.58, 0.60, 0.59, 0.58, 0.57, 0.58, 0.56, 0.57, 0.58, 0.57, 0.59, 0.60, 0.59, 0.55, 0.48, 0.55],
    [0.70, 0.47, 0.39, 0.37, 0.38, 0.45, 0.51, 0.62, 0.63, 0.64, 0.62, 0.60, 0.58, 0.57, 0.56, 0.57, 0.58, 0.59, 0.60, 0.62, 0.65, 0.60, 0.54, 0.56],
    [0.62, 0.44, 0.35, 0.33, 0.34, 0.42, 0.48, 0.56, 0.58, 0.60, 0.58, 0.56, 0.55, 0.53, 0.54, 0.56, 0.57, 0.58, 0.57, 0.59, 0.60, 0.56, 0.49, 0.54],
    [0.68, 0.46, 0.36, 0.30, 0.32, 0.40, 0.46, 0.52, 0.55, 0.56, 0.55, 0.54, 0.53, 0.54, 0.53, 0.55, 0.56, 0.56, 0.54, 0.55, 0.57, 0.53, 0.47, 0.56],
    [0.64, 0.46, 0.36, 0.33, 0.35, 0.42, 0.48, 0.54, 0.57, 0.58, 0.57, 0.56, 0.55, 0.56, 0.55, 0.56, 0.57, 0.59, 0.58, 0.59, 0.60, 0.56, 0.50, 0.58],
    [0.58, 0.44, 0.34, 0.30, 0.29, 0.38, 0.44, 0.50, 0.53, 0.54, 0.53, 0.52, 0.51, 0.52, 0.51, 0.53, 0.54, 0.56, 0.55, 0.56, 0.58, 0.54, 0.47, 0.50],
    [0.66, 0.46, 0.35, 0.32, 0.34, 0.41, 0.47, 0.53, 0.55, 0.56, 0.54, 0.53, 0.52, 0.52, 0.51, 0.53, 0.54, 0.56, 0.57, 0.58, 0.58, 0.56, 0.50, 0.62],
    [0.60, 0.44, 0.35, 0.33, 0.34, 0.41, 0.47, 0.53, 0.56, 0.55, 0.50, 0.51, 0.52, 0.50, 0.49, 0.48, 0.50, 0.52, 0.54, 0.56, 0.60, 0.56, 0.49, 0.58],
    [0.65, 0.45, 0.36, 0.34, 0.36, 0.43, 0.49, 0.54, 0.57, 0.58, 0.59, 0.57, 0.56, 0.55, 0.56, 0.57, 0.58, 0.60, 0.61, 0.62, 0.64, 0.60, 0.53, 0.60],
    [0.64, 0.46, 0.37, 0.35, 0.36, 0.44, 0.50, 0.55, 0.57, 0.60, 0.56, 0.55, 0.54, 0.56, 0.55, 0.57, 0.58, 0.59, 0.61, 0.62, 0.60, 0.57, 0.52, 0.62],
]

# group 8 (row 2, col 4)
g8 = [
    [0.646, 0.396, 0.371, 0.0, 0.0, 0.0, 0.0, 0.0, 0.0, 0.0, 0.0, 0.0, 0.0, 0.0, 0.0, 0.0, 0.0, 0.0, 0.0, 0.0, 0.0, 0.51, 0.448, 0.547],
    [0.659, 0.0, 0.0, 0.0, 0.0, 0.0, 0.0, 0.0, 0.0, 0.0, 0.0, 0.0, 0.0, 0.0, 0.0, 0.0, 0.0, 0.0, 0.67, 0.659, 0.68, 0.646, 0.598, 0.624],
    [0.659, 0.34, 0.0, 0.0, 0.0, 0.0, 0.0, 0.0, 0.0, 0.0, 0.0, 0.0, 0.0, 0.0, 0.0, 0.0, 0.0, 0.0, 0.0, 0.0, 0.0, 0.0, 0.448, 0.585],
    [0.594, 0.0, 0.0, 0.0, 0.0, 0.0, 0.0, 0.0, 0.0, 0.0, 0.0, 0.0, 0.0, 0.0, 0.0, 0.0, 0.0, 0.0, 0.0, 0.0, 0.641, 0.59, 0.564, 0.598],
    [0.663, 0.482, 0.414, 0.405, 0.0, 0.0, 0.0, 0.0, 0.0, 0.0, 0.0, 0.0, 0.0, 0.0, 0.0, 0.0, 0.0, 0.0, 0.0, 0.719, 0.73, 0.693, 0.603, 0.637],
    [0.663, 0.39, 0.106, 0.093, 0.102, 0.121, 0.149, 0.164, 0.196, 0.19, 0.184, 0.184, 0.175, 0.173, 0.188, 0.183, 0.19, 0.194, 0.177, 0.173, 0.598, 0.56, 0.521, 0.551],
]

# group 9 (row 3, col 1)
g9 = [
    [0.615, 0.479, 0.422, 0.397, 0.403, 0.492, 0.536, 0.593, 0.595, 0.625, 0.606, 0.618, 0.612, 0.63, 0.612, 0.624, 0.0, 0.0, 0.0, 0.0, 0.0, 0.637, 0.61, 0.698],
    [0.685, 0.43, 0.283, 0.308, 0.317, 0.384, 0.406, 0.562, 0.599, 0.573, 0.597, 0.554, 0.532, 0.523, 0.514, 0.542, 0.545, 0.589, 0.0, 0.0, 0.0, 0.0, 0.0, 0.483],
    [0.694, 0.475, 0.446, 0.439, 0.435, 0.488, 0.532, 0.678, 0.65, 0.704, 0.703, 0.687, 0.663, 0.672, 0.674, 0.703, 0.736, 0.744, 0.733, 0.0, 0.0, 0.0, 0.663, 0.619],
    [0.646, 0.43, 0.404, 0.424, 0.397, 0.453, 0.527, 0.606, 0.604, 0.611, 0.635, 0.647, 0.643, 0.639, 0.654, 0.606, 0.647, 0.641, 0.652, 0.0, 0.0, 0.0, 0.0, 0.615],
]

# group 10 (row 3, col 2)
g10 = [
    [0.60, 0.55, 0.52, 0.52, 0.54, 0.58, 0.65, 0.73, 0.78, 0.82, 0.84, 0.85, 0.84, 0.83, 0.82, 0.84, 0.85, 0.86, 0.84, 0.82, 0.80, 0.76, 0.70, 0.64],
    [0.63, 0.57, 0.0, 0.52, 0.55, 0.62, 0.72, 0.82, 0.90, 0.95, 0.97, 0.97, 0.96, 0.945, 0.94, 0.90, 0.85, 0.80, 0.72, 0.71, 0.70, 0.66, 0.62, 0.58],
    [0.62, 0.55, 0.50, 0.46, 0.47, 0.52, 0.60, 0.70, 0.75, 0.78, 0.79, 0.78, 0.80, 0.81, 0.82, 0.81, 0.80, 0.82, 0.81, 0.80, 0.78, 0.74, 0.68, 0.62],
    [0.65, 0.60, 0.58, 0.57, 0.58, 0.64, 0.74, 0.84, 0.90, 0.93, 0.96, 0.97, 0.94, 0.92, 0.90, 0.86, 0.84, 0.82, 0.80, 0.78, 0.75, 0.70, 0.64, 0.60],
    [0.53, 0.50, 0.49, 0.49, 0.50, 0.55, 0.62, 0.70, 0.75, 0.79, 0.80, 0.80, 0.79, 0.80, 0.81, 0.80, 0.82, 0.81, 0.80, 0.78, 0.76, 0.72, 0.66, 0.61],
    [0.64, 0.60, 0.58, 0.57, 0.58, 0.63, 0.70, 0.80, 0.86, 0.90, 0.92, 0.93, 0.945, 0.92, 0.90, 0.88, 0.86, 0.83, 0.80, 0.86, 0.84, 0.80, 0.78, 0.66],
    [0.58, 0.52, 0.48, 0.45, 0.46, 0.52, 0.60, 0.68, 0.73, 0.75, 0.76, 0.76, 0.75, 0.76, 0.75, 0.76, 0.77, 0.76, 0.75, 0.74, 0.72, 0.0, 0.66, 0.60],
    [0.60, 0.58, 0.56, 0.55, 0.56, 0.61, 0.68, 0.76, 0.80, 0.82, 0.83, 0.84, 0.83, 0.84, 0.83, 0.84, 0.86, 0.85, 0.84, 0.80, 0.77, 0.74, 0.70, 0.66],
    [0.88, 0.865, 0.85, 0.865, 0.87, 0.905, 0.91, 0.935, 0.93, 0.95, 0.96, 0.965, 0.975, 0.95, 0.95, 0.955, 0.96, 0.985, 0.97, 0.955, 0.95, 0.94, 0.925, 0.90],
    [0.58, 0.55, 0.52, 0.51, 0.52, 0.57, 0.65, 0.74, 0.80, 0.84, 0.86, 0.87, 0.86, 0.84, 0.83, 0.85, 0.86, 0.87, 0.85, 0.83, 0.80, 0.76, 0.70, 0.62],
    [0.57, 0.53, 0.50, 0.50, 0.51, 0.56, 0.64, 0.72, 0.78, 0.80, 0.81, 0.82, 0.80, 0.81, 0.79, 0.80, 0.82, 0.83, 0.82, 0.80, 0.78, 0.73, 0.67, 0.61],
    [0.58, 0.56, 0.55, 0.55, 0.56, 0.62, 0.70, 0.80, 0.86, 0.90, 0.91, 0.91, 0.92, 0.91, 0.90, 0.88, 0.86, 0.85, 0.80, 0.78, 0.76, 0.72, 0.65, 0.60],
    [0.55, 0.50, 0.46, 0.45, 0.46, 0.51, 0.58, 0.66, 0.72, 0.75, 0.74, 0.76, 0.78, 0.80, 0.81, 0.79, 0.80, 0.81, 0.82, 0.80, 0.77, 0.72, 0.66, 0.60],
    [0.64, 0.58, 0.55, 0.55, 0.56, 0.61, 0.68, 0.76, 0.80, 0.81, 0.80, 0.82, 0.83, 0.81, 0.80, 0.81, 0.82, 0.81, 0.83, 0.83, 0.80, 0.74, 0.66, 0.58],
    [0.56, 0.52, 0.50, 0.49, 0.50, 0.55, 0.63, 0.72, 0.80, 0.84, 0.86, 0.88, 0.90, 0.89, 0.88, 0.87, 0.85, 0.83, 0.82, 0.80, 0.78, 0.72, 0.66, 0.62],
    [0.58, 0.52, 0.48, 0.46, 0.48, 0.53, 0.60, 0.68, 0.74, 0.76, 0.75, 0.74, 0.73, 0.72, 0.74, 0.77, 0.78, 0.80, 0.81, 0.80, 0.82, 0.79, 0.76, 0.64],
    [0.56, 0.50, 0.47, 0.45, 0.46, 0.51, 0.58, 0.66, 0.72, 0.74, 0.75, 0.76, 0.75, 0.74, 0.73, 0.74, 0.75, 0.76, 0.74, 0.72, 0.70, 0.68, 0.64, 0.60],
    [0.59, 0.56, 0.54, 0.53, 0.54, 0.59, 0.66, 0.73, 0.76, 0.78, 0.79, 0.78, 0.76, 0.77, 0.75, 0.74, 0.76, 0.77, 0.78, 0.76, 0.74, 0.71, 0.67, 0.62],
    [0.55, 0.49, 0.47, 0.47, 0.49, 0.53, 0.60, 0.67, 0.71, 0.73, 0.74, 0.75, 0.76, 0.75, 0.74, 0.75, 0.75, 0.37, 0.365, 0.72, 0.70, 0.68, 0.65, 0.62],
    [0.57, 0.52, 0.49, 0.48, 0.49, 0.54, 0.62, 0.70, 0.76, 0.79, 0.82, 0.81, 0.80, 0.81, 0.82, 0.83, 0.84, 0.85, 0.84, 0.82, 0.79, 0.75, 0.68, 0.63],
    [0.62, 0.56, 0.53, 0.52, 0.53, 0.58, 0.66, 0.74, 0.78, 0.80, 0.81, 0.80, 0.79, 0.78, 0.80, 0.79, 0.78, 0.80, 0.79, 0.77, 0.74, 0.70, 0.64, 0.60],
    [0.59, 0.54, 0.51, 0.51, 0.52, 0.57, 0.65, 0.73, 0.78, 0.80, 0.81, 0.82, 0.81, 0.80, 0.81, 0.82, 0.84, 0.83, 0.84, 0.81, 0.78, 0.73, 0.66, 0.57],
    [0.57, 0.53, 0.50, 0.49, 0.50, 0.55, 0.62, 0.70, 0.74, 0.76, 0.77, 0.78, 0.77, 0.79, 0.78, 0.79, 0.80, 0.79, 0.78, 0.76, 0.74, 0.70, 0.65, 0.63],
    [0.60, 0.55, 0.52, 0.52, 0.53, 0.58, 0.66, 0.74, 0.78, 0.79, 0.80, 0.79, 0.80, 0.82, 0.81, 0.80, 0.81, 0.80, 0.82, 0.81, 0.78, 0.72, 0.64, 0.59],
    [0.54, 0.50, 0.47, 0.46, 0.47, 0.52, 0.60, 0.68, 0.74, 0.77, 0.78, 0.77, 0.78, 0.77, 0.79, 0.78, 0.79, 0.80, 0.79, 0.77, 0.75, 0.70, 0.64, 0.62],
    [0.62, 0.57, 0.54, 0.53, 0.54, 0.59, 0.66, 0.74, 0.78, 0.81, 0.82, 0.80, 0.81, 0.79, 0.80, 0.82, 0.83, 0.82, 0.84, 0.86, 0.84, 0.81, 0.78, 0.66],
]

# group 11 (row 3, col 3)
g11 = [
    [0.661, 0.49, 0.426, 0.414, 0.431, 0.466, 0.499, 0.607, 0.627, 0.648, 0.677, 0.675, 0.0, 0.0, 0.0, 0.0, 0.0, 0.68, 0.673, 0.654, 0.658, 0.615, 0.569, 0.499],
    [0.706, 0.391, 0.281, 0.241, 0.273, 0.354, 0.383, 0.422, 0.471, 0.432, 0.152, 0.138, 0.131, 0.129, 0.121, 0.148, 0.144, 0.171, 0.152, 0.146, 0.553, 0.511, 0.459, 0.528],
    [0.617, 0.431, 0.401, 0.397, 0.399, 0.499, 0.532, 0.623, 0.611, 0.617, 0.0, 0.0, 0.0, 0.0, 0.0, 0.0, 0.0, 0.0, 0.0, 0.0, 0.0, 0.669, 0.578, 0.652],
    [0.654, 0.457, 0.391, 0.391, 0.391, 0.453, 0.503, 0.561, 0.619, 0.619, 0.648, 0.683, 0.615, 0.0, 0.0, 0.0, 0.0, 0.0, 0.0, 0.663, 0.632, 0.586, 0.555, 0.569],
]

groups = [g1, g2, g3, g4, g5, g6, g7, g8, g9, g10, g11]

title_top = "grupos"
caption = ["Fig. Grupos", "utilizando"]

# layout, measured in pixels of the 1498 x 1189 picture
W, H, DPI = 1498, 1189, 147
col_px = [(108, 385), (478, 755), (848, 1126), (1219, 1496)]
row_px = [(18, 330), (419, 730), (812, 1125)]

fig = plt.figure(figsize=(W / DPI, H / DPI), dpi=DPI)

for k, lines in enumerate(groups):
    r, c = divmod(k, 4)
    x0, x1 = col_px[c]
    y0, y1 = row_px[r]
    ax = fig.add_axes([x0 / W, 1 - y1 / H, (x1 - x0) / W, (y1 - y0) / H])
    for y in lines:
        ax.plot(hours, y)
    ax.set_xlabel("Time (h)")
    ax.set_ylabel("Demand (pu)")

blue = "#4F81BD"
font = dict(family=["Lato", "DejaVu Sans"], fontweight="bold", color=blue)
# slide text behind the figure, cut by the picture edges as in the screenshot
fig.text(945 / W, 1 + 1 / H, title_top, va="baseline", ha="left", fontsize=40, **font)
fig.text(1203 / W, 1 - 900 / H, caption[0], va="baseline", ha="left", fontsize=33.5, **font)
fig.text(1209 / W, 1 - 990 / H, caption[1], va="baseline", ha="left", fontsize=33.5, **font)

fig.savefig("out.png", dpi=DPI)
